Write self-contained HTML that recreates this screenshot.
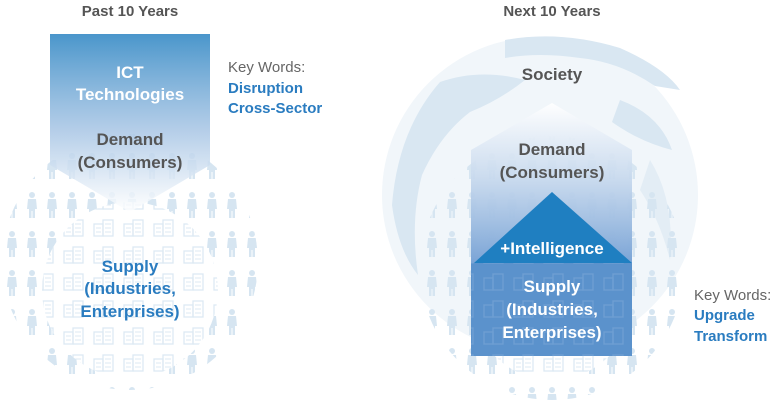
<!DOCTYPE html>
<html><head><meta charset="utf-8"><style>
body{margin:0;background:#fff;}
svg{display:block;font-family:"Liberation Sans",sans-serif;}
</style></head><body>
<svg width="778" height="411" viewBox="0 0 778 411" xmlns="http://www.w3.org/2000/svg">
<defs>
<pattern id="ppl" x="2" y="152" width="20" height="39" patternUnits="userSpaceOnUse">
 <circle cx="10" cy="4" r="3" fill="#d6e5f1"/>
 <path d="M6 8 h8 l1 10 h-2 v9 h-2.5 v-7 h-1 v7 h-2.5 v-9 h-2 z" fill="#d6e5f1"/>
</pattern>
<pattern id="bld" x="0" y="0" width="30" height="27" patternUnits="userSpaceOnUse">
 <rect x="4" y="8" width="9" height="12" fill="none" stroke="#dde9f3" stroke-width="1.3"/>
 <rect x="13" y="4" width="10" height="16" fill="none" stroke="#dde9f3" stroke-width="1.3"/>
 <path d="M15 8h6M15 12h6M15 16h6M6 12h5M6 16h5" stroke="#dde9f3" stroke-width="1"/>
</pattern>
<pattern id="bld2" x="0" y="0" width="30" height="27" patternUnits="userSpaceOnUse">
 <rect x="4" y="8" width="9" height="12" fill="none" stroke="#6e9fd3" stroke-width="1.3"/>
 <rect x="13" y="4" width="10" height="16" fill="none" stroke="#6e9fd3" stroke-width="1.3"/>
</pattern>
<linearGradient id="g1" x1="0" y1="0" x2="0" y2="1">
 <stop offset="0" stop-color="#4a96cb"/>
 <stop offset="0.55" stop-color="#a9c6e5" stop-opacity="0.85"/>
 <stop offset="1" stop-color="#ffffff" stop-opacity="0.8"/>
</linearGradient>
<linearGradient id="g2" x1="0" y1="0" x2="0" y2="1">
 <stop offset="0" stop-color="#ffffff" stop-opacity="0.95"/>
 <stop offset="0.45" stop-color="#c9daee" stop-opacity="0.9"/>
 <stop offset="1" stop-color="#7aa4d6"/>
</linearGradient>
</defs>

<!-- LEFT -->
<text x="130" y="16" font-size="15" font-weight="bold" fill="#555" text-anchor="middle">Past 10 Years</text>
<circle cx="130" cy="262" r="128" fill="url(#ppl)"/>
<circle cx="130" cy="290" r="88" fill="#fff"/>
<circle cx="130" cy="290" r="88" fill="url(#bld)"/>
<polygon points="50,34 210,34 210,165 130,212 50,165" fill="url(#g1)"/>
<text x="130" y="78" font-size="17" font-weight="bold" fill="#fff" text-anchor="middle">ICT</text>
<text x="130" y="100" font-size="17" font-weight="bold" fill="#fff" text-anchor="middle">Technologies</text>
<text x="130" y="145" font-size="17" font-weight="bold" fill="#555" text-anchor="middle">Demand</text>
<text x="130" y="168" font-size="17" font-weight="bold" fill="#555" text-anchor="middle">(Consumers)</text>
<text x="130" y="272" font-size="17" font-weight="bold" fill="#2a7cc0" text-anchor="middle">Supply</text>
<text x="130" y="294" font-size="17" font-weight="bold" fill="#2a7cc0" text-anchor="middle">(Industries,</text>
<text x="130" y="317" font-size="17" font-weight="bold" fill="#2a7cc0" text-anchor="middle">Enterprises)</text>
<text x="228" y="72" font-size="15" fill="#666">Key Words:</text>
<text x="228" y="93" font-size="15" font-weight="bold" fill="#2a7cc0">Disruption</text>
<text x="228" y="113" font-size="15" font-weight="bold" fill="#2a7cc0">Cross-Sector</text>

<!-- RIGHT -->
<text x="552" y="16" font-size="15" font-weight="bold" fill="#555" text-anchor="middle">Next 10 Years</text>
<circle cx="540" cy="195" r="158" fill="#f1f6fa"/>
<path d="M505 40 Q560 30 620 48 Q665 68 680 90 L655 86 Q620 62 580 58 Q540 52 505 58 Z" fill="#d9e7f2"/>
<path d="M440 82 Q480 68 525 80 Q500 100 470 112 Q440 135 422 175 Q410 220 418 275 Q398 250 392 205 Q398 130 440 82 Z" fill="#d9e7f2"/>
<path d="M620 100 Q660 115 672 150 Q640 142 612 122 Z" fill="#d9e7f2"/>
<path d="M650 160 Q675 200 670 260 Q660 220 640 190 Z" fill="#e3edf5"/>
<circle cx="552" cy="268" r="132" fill="url(#ppl)"/>
<circle cx="552" cy="300" r="80" fill="#fff"/>
<circle cx="552" cy="300" r="80" fill="url(#bld)"/>
<text x="552" y="80" font-size="17" font-weight="bold" fill="#555" text-anchor="middle">Society</text>
<polygon points="552,103 632,150 632,263 471,263 471,150" fill="url(#g2)"/>
<rect x="471" y="263" width="161" height="93" fill="#5b92cc"/>
<rect x="471" y="263" width="161" height="93" fill="url(#bld2)"/>
<polygon points="552,192 632,263 474,263" fill="#1f7fc1"/>
<text x="552" y="155" font-size="17" font-weight="bold" fill="#555" text-anchor="middle">Demand</text>
<text x="552" y="178" font-size="17" font-weight="bold" fill="#555" text-anchor="middle">(Consumers)</text>
<text x="552" y="254" font-size="17" font-weight="bold" fill="#fff" text-anchor="middle">+Intelligence</text>
<text x="552" y="292" font-size="17" font-weight="bold" fill="#fff" text-anchor="middle">Supply</text>
<text x="552" y="315" font-size="17" font-weight="bold" fill="#fff" text-anchor="middle">(Industries,</text>
<text x="552" y="338" font-size="17" font-weight="bold" fill="#fff" text-anchor="middle">Enterprises)</text>
<text x="694" y="300" font-size="15" fill="#666">Key Words:</text>
<text x="694" y="320" font-size="15" font-weight="bold" fill="#2a7cc0">Upgrade</text>
<text x="694" y="341" font-size="15" font-weight="bold" fill="#2a7cc0">Transform</text>
</svg>
</body></html>
